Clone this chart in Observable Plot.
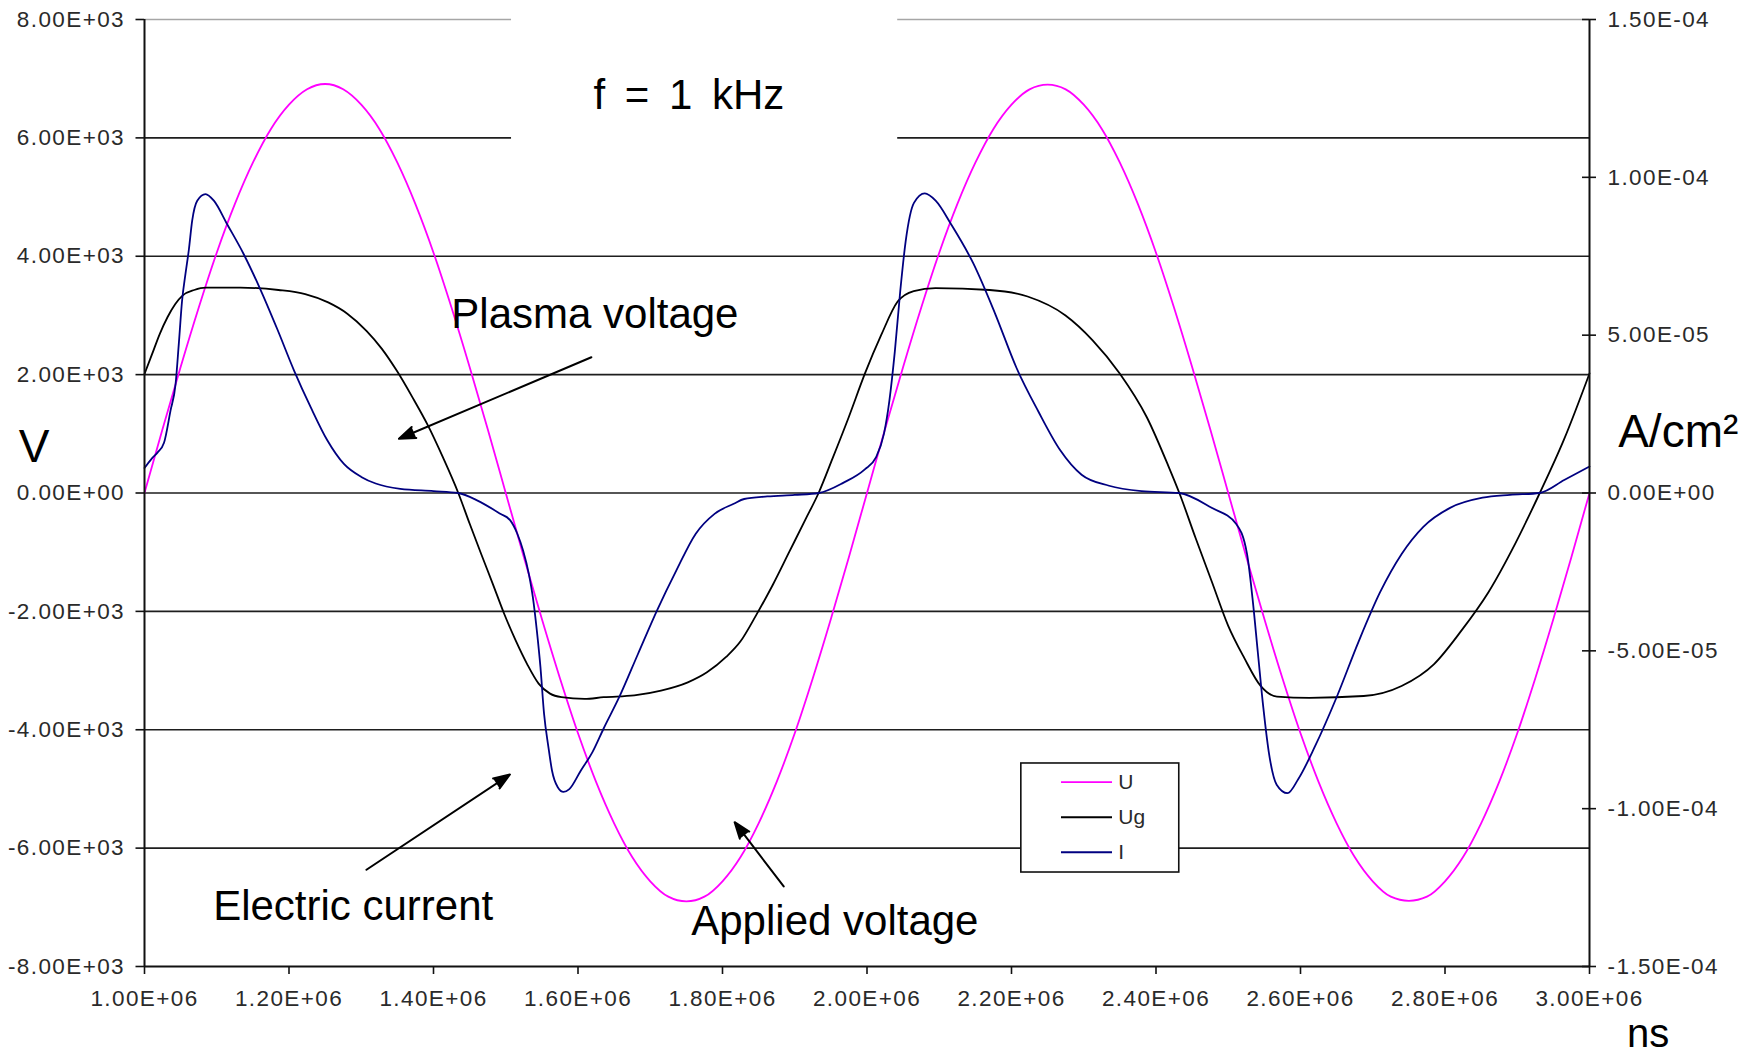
<!DOCTYPE html>
<html>
<head>
<meta charset="utf-8">
<script src="https://cdn.jsdelivr.net/npm/d3@7"></script>
<script src="https://cdn.jsdelivr.net/npm/@observablehq/plot@0.6"></script>
<style>
  html, body { margin: 0; padding: 0; background: #fff; }
  #chart svg { display: block; }
</style>
</head>
<body>
<div id="chart"></div>
<script>
// ---- Series: time in ns, voltages in V, current density in A/cm² ----
const uTime = [
  1.000e6, 1.025e6, 1.050e6, 1.075e6, 1.100e6, 1.125e6, 1.150e6, 1.175e6, 1.200e6, 1.225e6,
  1.250e6, 1.275e6, 1.300e6, 1.325e6, 1.350e6, 1.375e6, 1.400e6, 1.425e6, 1.450e6, 1.475e6,
  1.500e6, 1.525e6, 1.550e6, 1.575e6, 1.600e6, 1.625e6, 1.650e6, 1.675e6, 1.700e6, 1.725e6,
  1.750e6, 1.775e6, 1.800e6, 1.825e6, 1.850e6, 1.875e6, 1.900e6, 1.925e6, 1.950e6, 1.975e6,
  2.000e6, 2.025e6, 2.050e6, 2.075e6, 2.100e6, 2.125e6, 2.150e6, 2.175e6, 2.200e6, 2.225e6,
  2.250e6, 2.275e6, 2.300e6, 2.325e6, 2.350e6, 2.375e6, 2.400e6, 2.425e6, 2.450e6, 2.475e6,
  2.500e6, 2.525e6, 2.550e6, 2.575e6, 2.600e6, 2.625e6, 2.650e6, 2.675e6, 2.700e6, 2.725e6,
  2.750e6, 2.775e6, 2.800e6, 2.825e6, 2.850e6, 2.875e6, 2.900e6, 2.925e6, 2.950e6, 2.975e6,
  3.000e6
];
const uVolt = [
  0, 1080, 2130, 3130, 4060, 4880, 5580, 6150, 6560, 6820,
  6910, 6820, 6560, 6150, 5580, 4880, 4060, 3130, 2130, 1080,
  0, -1080, -2130, -3130, -4060, -4880, -5580, -6150, -6560, -6820,
  -6900, -6820, -6560, -6150, -5580, -4880, -4060, -3130, -2130, -1080,
  0, 1080, 2130, 3130, 4060, 4880, 5580, 6150, 6560, 6820,
  6900, 6820, 6560, 6150, 5580, 4880, 4060, 3130, 2130, 1080,
  0, -1080, -2130, -3130, -4060, -4880, -5580, -6150, -6560, -6820,
  -6890, -6820, -6560, -6150, -5580, -4880, -4060, -3130, -2130, -1080,
  0
];

const ugTime = [
  1.0000e6, 1.0106e6, 1.0212e6, 1.0318e6, 1.0424e6, 1.0530e6, 1.0688e6, 1.0847e6, 1.1324e6, 1.1854e6,
  1.2224e6, 1.2542e6, 1.2807e6, 1.3072e6, 1.3283e6, 1.3495e6, 1.3707e6, 1.3919e6, 1.4131e6, 1.4343e6,
  1.4501e6, 1.4660e6, 1.4819e6, 1.4978e6, 1.5137e6, 1.5296e6, 1.5455e6, 1.5613e6, 1.5772e6, 1.6090e6,
  1.6355e6, 1.6779e6, 1.7149e6, 1.7520e6, 1.7785e6, 1.8050e6, 1.8247e6, 1.8472e6, 1.8697e6, 1.8922e6,
  1.9147e6, 1.9330e6, 1.9522e6, 1.9747e6, 1.9972e6, 2.0197e6, 2.0422e6, 2.0647e6, 2.0947e6, 2.1698e6,
  2.2223e6, 2.2748e6, 2.3123e6, 2.3498e6, 2.3873e6, 2.4173e6, 2.4323e6, 2.4548e6, 2.4773e6, 2.4998e6,
  2.5223e6, 2.5448e6, 2.5674e6, 2.6124e6, 2.6874e6, 2.7399e6, 2.7849e6, 2.8224e6, 2.8599e6, 2.8974e6,
  2.9312e6, 2.9649e6, 3.0000e6
];
const ugVolt = [
  2010, 2350, 2690, 2970, 3190, 3340, 3430, 3470, 3470, 3430,
  3360, 3220, 3030, 2740, 2440, 2060, 1620, 1150, 600, 0,
  -520, -1030, -1530, -2040, -2490, -2890, -3220, -3390, -3450, -3480,
  -3450, -3420, -3340, -3200, -3030, -2770, -2510, -2050, -1550, -1000,
  -450, 0, 580, 1280, 2020, 2670, 3230, 3410, 3460, 3430,
  3320, 3000, 2580, 2020, 1280, 450, 0, -760, -1500, -2240,
  -2790, -3260, -3440, -3460, -3430, -3260, -2890, -2330, -1680, -850,
  0, 910, 2020
];

const iTime = [
  1.0000e6, 1.0100e6, 1.0180e6, 1.0270e6, 1.0360e6, 1.0430e6, 1.0475e6, 1.0520e6, 1.0567e6, 1.0613e6,
  1.0660e6, 1.0730e6, 1.0845e6, 1.0960e6, 1.1140e6, 1.1370e6, 1.1600e6, 1.1840e6, 1.2070e6, 1.2300e6,
  1.2530e6, 1.2760e6, 1.3000e6, 1.3200e6, 1.3540e6, 1.4000e6, 1.4340e6, 1.4610e6, 1.4925e6, 1.5060e6,
  1.5160e6, 1.5240e6, 1.5320e6, 1.5375e6, 1.5430e6, 1.5480e6, 1.5530e6, 1.5590e6, 1.5640e6, 1.5720e6,
  1.5800e6, 1.5880e6, 1.6040e6, 1.6200e6, 1.6355e6, 1.6570e6, 1.6830e6, 1.7096e6, 1.7360e6, 1.7630e6,
  1.7890e6, 1.8155e6, 1.8300e6, 1.8620e6, 1.9000e6, 1.9335e6, 1.9670e6, 1.9970e6, 2.0120e6, 2.0235e6,
  2.0310e6, 2.0385e6, 2.0460e6, 2.0535e6, 2.0650e6, 2.0800e6, 2.0950e6, 2.1170e6, 2.1470e6, 2.1770e6,
  2.2070e6, 2.2370e6, 2.2670e6, 2.2970e6, 2.3350e6, 2.3800e6, 2.4320e6, 2.4770e6, 2.5110e6, 2.5260e6,
  2.5336e6, 2.5410e6, 2.5486e6, 2.5560e6, 2.5670e6, 2.5820e6, 2.5970e6, 2.6200e6, 2.6500e6, 2.6800e6,
  2.7100e6, 2.7400e6, 2.7700e6, 2.8070e6, 2.8520e6, 2.8900e6, 2.9310e6, 2.9650e6, 3.0000e6
];
const iCurrent = [
  7.9e-6, 1.09e-5, 1.28e-5, 1.59e-5, 2.61e-5, 3.45e-5, 4.73e-5, 6.09e-5, 6.94e-5, 7.69e-5,
  8.63e-5, 9.26e-5, 9.47e-5, 9.26e-5, 8.53e-5, 7.58e-5, 6.47e-5, 5.18e-5, 3.88e-5, 2.72e-5,
  1.67e-5, 9.2e-6, 5.1e-6, 3.0e-6, 1.3e-6, 6.0e-7, 0, -2.4e-6, -6.6e-6, -8.6e-6,
  -1.29e-5, -1.82e-5, -2.57e-5, -3.30e-5, -4.35e-5, -5.51e-5, -6.99e-5, -8.04e-5, -8.79e-5, -9.32e-5,
  -9.47e-5, -9.38e-5, -8.79e-5, -8.21e-5, -7.46e-5, -6.47e-5, -5.10e-5, -3.71e-5, -2.46e-5, -1.29e-5,
  -6.6e-6, -3.4e-6, -1.9e-6, -1.1e-6, -6.0e-7, 0, 3.2e-6, 7.5e-6, 1.11e-5, 1.88e-5,
  2.93e-5, 4.48e-5, 6.39e-5, 7.97e-5, 9.19e-5, 9.49e-5, 9.26e-5, 8.49e-5, 7.28e-5, 5.70e-5,
  3.96e-5, 2.59e-5, 1.37e-5, 5.8e-6, 2.3e-6, 6.0e-7, 0, -4.7e-6, -9.8e-6, -1.93e-5,
  -3.34e-5, -5.06e-5, -6.81e-5, -8.19e-5, -9.24e-5, -9.51e-5, -9.06e-5, -8.03e-5, -6.47e-5, -4.73e-5,
  -3.15e-5, -1.93e-5, -1.07e-5, -4.7e-6, -1.5e-6, -6.0e-7, 0, 4.1e-6, 8.4e-6
];

// ---- Legend entries ----
const seriesNames = ["U", "Ug", "I"];
const seriesColors = ["#ff00ff", "#000000", "#000080"];

// ---- Axis ticks ----
const xTicks = [1.0e6, 1.2e6, 1.4e6, 1.6e6, 1.8e6, 2.0e6, 2.2e6, 2.4e6, 2.6e6, 2.8e6, 3.0e6];
const voltTicks = [-8000, -6000, -4000, -2000, 0, 2000, 4000, 6000, 8000];
const currentTicks = [-1.5e-4, -1.0e-4, -5.0e-5, 0, 5.0e-5, 1.0e-4, 1.5e-4];

// ---- Derived scale helpers ----
const xMin = d3.min(xTicks), xMax = d3.max(xTicks);
const yMin = d3.min(voltTicks), yMax = d3.max(voltTicks);
// current axis shares the zero line with the voltage axis
const k = yMax / d3.max(currentTicks);

// Spreadsheet-style scientific notation: 8.00E+03, -1.50E-04
function sci(v) {
  const [m, e] = d3.format(".2e")(v).replace(/\u2212/g, "-").split("e");
  const n = +e;
  return `${m}E${n < 0 ? "-" : "+"}${String(Math.abs(n)).padStart(2, "0")}`;
}

const uData = uTime.map((t, i) => ({t, v: uVolt[i]}));
const ugData = ugTime.map((t, i) => ({t, v: ugVolt[i]}));
const iData = iTime.map((t, i) => ({t, v: iCurrent[i] * k}));
const seriesData = [uData, ugData, iData];

const legendRows = seriesNames.map((name, i) => ({name, color: seriesColors[i], row: i}));

const FONT = "'Liberation Sans', Arial, Helvetica, sans-serif";
const TICK_FILL = "#2a2a2a";
const TICK_FONT = 22.5;

const label = (text, x, y, opts = {}) =>
  Plot.text([text], {x: [x], y: [y], text: (d) => d, lineAnchor: "bottom", fontSize: 42, fill: "#000", ...opts});

const pointer = (x1, y1, x2, y2) =>
  Plot.arrow([0], {x1: [x1], y1: [y1], x2: [x2], y2: [y2], stroke: "#000", fill: "#000",
                   strokeWidth: 2, headLength: 13, headAngle: 40});

const chart = Plot.plot({
  width: 1761,
  height: 1056,
  marginLeft: 144,
  marginRight: 172,
  marginTop: 19,
  marginBottom: 90,
  style: {fontFamily: FONT, background: "#fff", color: "#000"},
  x: {domain: [xMin, xMax], axis: null},
  y: {domain: [yMin, yMax], axis: null},
  marks: [
    // horizontal gridlines
    Plot.ruleY(voltTicks.filter((d) => d > yMin && d < yMax), {stroke: "#1e1e1e", strokeWidth: 1.6}),
    Plot.ruleY([yMax], {stroke: "#a6a6a6", strokeWidth: 1.6}),

    // white panel behind the frequency note
    Plot.rect([0], {x1: [1.508e6], x2: [2.0425e6], y1: [5000], y2: [8150], fill: "#fff"}),

    // curves
    ...seriesData.map((data, i) =>
      Plot.line(data, {x: "t", y: "v", stroke: seriesColors[i], strokeWidth: 1.8, curve: "monotone-x"})
    ),

    // frame lines
    Plot.ruleX([xMin, xMax], {stroke: "#111", strokeWidth: 2}),
    Plot.ruleY([yMin], {stroke: "#111", strokeWidth: 2}),

    // axes
    Plot.axisY({anchor: "left", label: null, ticks: voltTicks, tickFormat: sci, tickSize: 8.5, tickPadding: 11,
                fontSize: TICK_FONT, fill: TICK_FILL, stroke: "#111", strokeWidth: 1.6}),
    Plot.axisY({anchor: "right", label: null, ticks: currentTicks.map((d) => d * k), tickFormat: (d) => sci(d / k),
                tickSize: 14, insetRight: 8, tickPadding: 12,
                fontSize: TICK_FONT, fill: TICK_FILL, stroke: "#111", strokeWidth: 1.6}),
    Plot.axisX({anchor: "bottom", label: null, ticks: xTicks, tickFormat: sci, tickSize: 8, tickPadding: 16,
                fontSize: TICK_FONT, fill: TICK_FILL, stroke: "#111", strokeWidth: 1.6}),

    // legend box
    Plot.rect([0], {x1: [2.2136e6], x2: [2.4322e6], y1: [-6412], y2: [-4570],
                    fill: "#fff", stroke: "#111", strokeWidth: 1.6}),
    Plot.link(legendRows, {x1: () => 2.2685e6, x2: () => 2.3391e6, y1: (d) => -4886 - d.row * 592,
                           y2: (d) => -4886 - d.row * 592, stroke: (d) => d.color, strokeWidth: 1.8}),
    Plot.text(legendRows, {x: () => 2.3478e6, y: (d) => -4886 - d.row * 592, text: "name",
                           textAnchor: "start", fontSize: 21, fill: TICK_FILL}),

    // annotations
    label("f = 1 kHz", 1.7535e6, 6480),
    label("Plasma voltage", 1.6234e6, 2780),
    label("Electric current", 1.2888e6, -7220),
    label("Applied voltage", 1.9555e6, -7470),
    label("V", 0.8471e6, 520, {fontSize: 46}),
    label("A/cm²", 3.0397e6, 780, {fontSize: 46, textAnchor: "start"}),
    label("ns", 3.0812e6, -9360, {fontSize: 40}),

    pointer(1.6185e6, 2294, 1.3522e6, 916),
    pointer(1.3072e6, -6366, 1.5058e6, -4756),
    pointer(1.8847e6, -6648, 1.8168e6, -5562)
  ]
});

// wider word gaps in the frequency note
d3.select(chart).selectAll("text")
  .filter(function () { return this.textContent === "f = 1 kHz"; })
  .style("word-spacing", "8px");

// slightly looser tracking on the numeric tick labels
d3.select(chart)
  .selectAll('g[aria-label="y-axis tick label"], g[aria-label="x-axis tick label"]')
  .style("letter-spacing", "1.4px");

document.getElementById("chart").appendChild(chart);
</script>
</body>
</html>
